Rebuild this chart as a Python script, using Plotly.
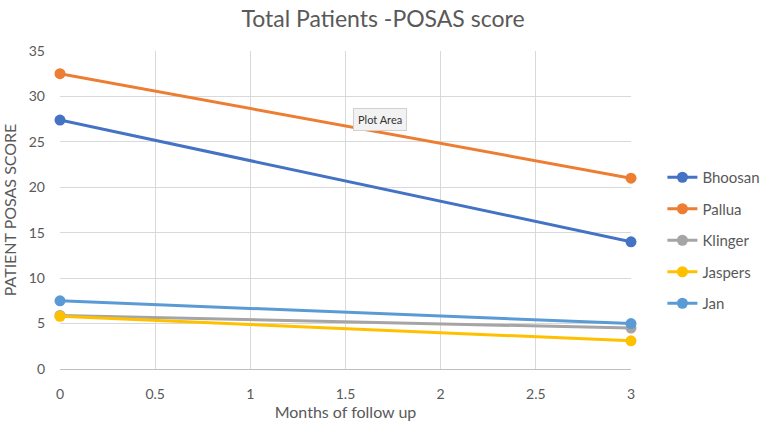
import plotly.graph_objects as go

months = [0, 3]
series_names = ["Bhoosan", "Pallua", "Klinger", "Jaspers", "Jan"]
bhoosan = [27.4, 14.0]
pallua = [32.5, 21.0]
klinger = [5.9, 4.5]
jaspers = [5.8, 3.1]
jan = [7.5, 5.0]
colors = ["#4472C4", "#ED7D31", "#A5A5A5", "#FFC000", "#5B9BD5"]

x_ticks = [0, 0.5, 1, 1.5, 2, 2.5, 3]
x_tick_labels = ["0", "0.5", "1", "1.5", "2", "2.5", "3"]
y_ticks = [0, 5, 10, 15, 20, 25, 30, 35]

values = [bhoosan, pallua, klinger, jaspers, jan]
font_family = "Lato, Open Sans, sans-serif"

L, R, T, B = 60, 135, 51, 61
W, H = 766, 430

fig = go.Figure()
order = [2, 3, 4, 1, 0]
for i in order:
    fig.add_trace(go.Scatter(
        x=months, y=values[i], name=series_names[i], mode="lines+markers",
        line=dict(color=colors[i], width=3),
        marker=dict(color=colors[i], size=11),
        legendgroup=series_names[i], legendrank=i, cliponaxis=False,
    ))

fig.update_layout(
    width=W, height=H,
    margin=dict(l=L, r=R, t=T, b=B, autoexpand=False),
    paper_bgcolor="white", plot_bgcolor="white",
    font=dict(family=font_family, color="#595959", size=14),
    title=dict(text="Total Patients -POSAS score", x=0.5, xanchor="center",
               y=1 - 19 / H, yanchor="middle", font=dict(size=23, color="#595959")),
    xaxis=dict(range=[0, 3], tickvals=x_ticks, ticktext=x_tick_labels,
               showgrid=True, gridcolor="#D9D9D9", gridwidth=1,
               zeroline=False, showline=True, linecolor="#BFBFBF", linewidth=1,
               ticks="", ticklabelstandoff=12, automargin=False,
               title=dict(text="Months of follow up", font=dict(size=16), standoff=3)),
    yaxis=dict(range=[0, 35], tickvals=y_ticks,
               showgrid=True, gridcolor="#D9D9D9", gridwidth=1,
               zeroline=False, showline=False, ticks="", automargin=False,
               ticklabelstandoff=14,
               title=dict(text="PATIENT POSAS SCORE", font=dict(size=16), standoff=9)),
    legend=dict(x=1.055, xanchor="left", y=(H - B - 240.5) / (H - T - B), yanchor="middle",
                font=dict(size=15, color="#595959"), tracegroupgap=9,
                bgcolor="rgba(0,0,0,0)"),
    showlegend=True,
)

fig.add_annotation(
    x=(380 - L) / (W - L - R), y=(H - B - 108) / (H - T - B),
    xref="paper", yref="paper", text="Plot Area",
    showarrow=False, font=dict(size=11, color="#333333"),
    bgcolor="#F2F2F2", bordercolor="#D0D0D0", borderwidth=1, borderpad=4,
)

fig.write_html("out.html", config={"displayModeBar": False},
               post_script="document.body.style.margin='0';document.body.style.overflow='hidden';")
